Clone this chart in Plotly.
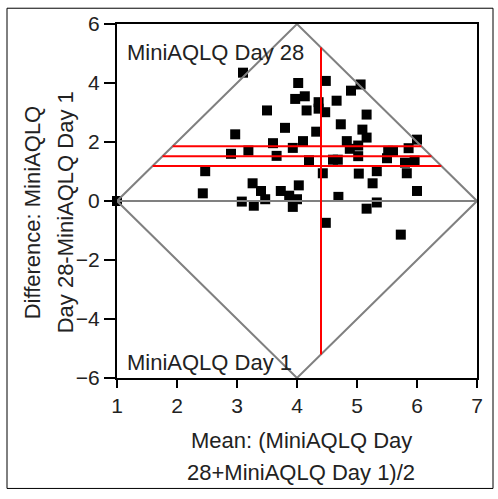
import plotly.graph_objects as go

# Bland-Altman style data: mean of the two scores (x) and difference (y)
mean_vals = [1.00, 2.43, 2.47, 2.90, 2.97, 3.10, 3.08, 3.19, 3.26, 3.28,
             3.40, 3.47, 3.50, 3.60, 3.66, 3.73, 3.80, 3.87, 3.93, 3.93,
             3.97, 4.00, 4.02, 4.03, 4.10, 4.13, 4.16, 4.20, 4.32, 4.36,
             4.36, 4.43, 4.47, 4.48, 4.48, 4.60, 4.66, 4.68, 4.69, 4.73,
             4.83, 4.88, 4.90, 5.02, 5.02, 5.03, 5.06, 5.09, 5.16, 5.16,
             5.16, 5.26, 5.33, 5.33, 5.52, 5.60, 5.50, 5.73, 5.80, 5.83,
             5.86, 5.96, 6.00, 6.00]
diff_vals = [0.00, 0.26, 1.01, 1.60, 2.26, 4.35, -0.02, 1.71, 0.60, -0.16,
             0.34, 0.06, 3.07, 1.96, 1.53, 0.34, 2.48, 0.18, 1.80, -0.20,
             3.46, 0.06, 4.00, 0.53, 2.03, 3.55, 3.07, 1.38, 2.35, 3.35,
             3.13, 0.94, 3.01, 4.07, -0.74, 1.40, 3.40, 1.40, 0.14, 2.60,
             2.03, 1.77, 3.74, 1.88, 1.52, 0.93, 3.95, 2.42, 2.93, 2.15,
             -0.26, 0.60, 1.01, -0.05, 1.70, 1.70, 1.45, -1.14, 1.30, 0.94,
             1.79, 1.37, 2.08, 0.34]

# Reference lines
mean_diff = 1.52
diff_ci_low = 1.19
diff_ci_high = 1.855
mean_of_means = 4.40

# Scale limits (score range 1..7)
score_min, score_max = 1, 7
diamond_x = [1, 4, 7, 4, 1]
diamond_y = [0, 6, 0, -6, 0]
zero_x = [1, 7]
zero_y = [0, 0]

x_ticks = [1, 2, 3, 4, 5, 6, 7]
y_ticks = [-6, -4, -2, 0, 2, 4, 6]

label_top = "MiniAQLQ Day 28"
label_bottom = "MiniAQLQ Day 1"
x_title = ["Mean: (MiniAQLQ Day", "28+MiniAQLQ Day 1)/2"]
y_title = ["Difference: MiniAQLQ", "Day 28-MiniAQLQ Day 1"]

FONT = "Liberation Sans, Arial, sans-serif"
W, H = 498, 499
L, R, T, B = 117, 21, 19, 121
PW, PH = W - L - R, H - T - B


def px_to_paper(px, py):
    return (px - L) / PW, (H - B - py) / PH


fig = go.Figure()

fig.add_trace(go.Scatter(
    x=mean_vals, y=diff_vals, mode="markers",
    marker=dict(symbol="square", size=10, color="black"),
    cliponaxis=False, showlegend=False, hoverinfo="x+y"))

fig.add_trace(go.Scatter(x=diamond_x, y=diamond_y, mode="lines",
                         line=dict(color="#808080", width=2),
                         showlegend=False, hoverinfo="skip"))
fig.add_trace(go.Scatter(x=zero_x, y=zero_y, mode="lines",
                         line=dict(color="#808080", width=2),
                         showlegend=False, hoverinfo="skip"))

# Horizontal red lines span the diamond at their height
for yv in [diff_ci_high, mean_diff, diff_ci_low]:
    half = abs(yv) / 2
    fig.add_trace(go.Scatter(x=[score_min + half, score_max - half], y=[yv, yv],
                             mode="lines", line=dict(color="red", width=2),
                             showlegend=False, hoverinfo="skip"))
# Vertical red line spans the diamond at mean_of_means
hh = 2 * min(mean_of_means - score_min, score_max - mean_of_means)
fig.add_trace(go.Scatter(x=[mean_of_means, mean_of_means], y=[-hh, hh],
                         mode="lines", line=dict(color="red", width=2),
                         showlegend=False, hoverinfo="skip"))

annotations = []
ax, ay = px_to_paper(125, 48)
annotations.append(dict(text=label_top, x=ax, y=ay, xref="paper", yref="paper",
                        xanchor="left", yanchor="middle", showarrow=False,
                        font=dict(family=FONT, size=22, color="#222")))
ax, ay = px_to_paper(125, 362)
annotations.append(dict(text=label_bottom, x=ax, y=ay, xref="paper", yref="paper",
                        xanchor="left", yanchor="middle", showarrow=False,
                        font=dict(family=FONT, size=22, color="#222")))
for i, (cy) in enumerate([441, 474]):
    ax, ay = px_to_paper(301, cy)
    annotations.append(dict(text=x_title[i], x=ax, y=ay, xref="paper", yref="paper",
                            xanchor="center", yanchor="middle", showarrow=False,
                            font=dict(family=FONT, size=22, color="#222")))
for i, cx in enumerate([32, 65]):
    ax, ay = px_to_paper(cx, 210)
    annotations.append(dict(text=y_title[i], x=ax, y=ay, xref="paper", yref="paper",
                            xanchor="center", yanchor="middle", showarrow=False,
                            textangle=-90,
                            font=dict(family=FONT, size=22, color="#222")))

bx0, by0 = px_to_paper(7, 490)
bx1, by1 = px_to_paper(493, 3)

fig.update_layout(
    width=W, height=H,
    margin=dict(l=L, r=R, t=T, b=B, pad=0),
    paper_bgcolor="white", plot_bgcolor="white",
    font=dict(family=FONT, size=21, color="#222"),
    annotations=annotations,
    shapes=[dict(type="rect", xref="paper", yref="paper",
                 x0=bx0, y0=by0, x1=bx1, y1=by1,
                 line=dict(color="black", width=1), layer="below")],
    xaxis=dict(range=[score_min, score_max], tickvals=x_ticks, ticks="outside",
               ticklen=8, tickwidth=2, tickcolor="black", showline=True,
               linecolor="black", linewidth=2, mirror=True, showgrid=False,
               zeroline=False, tickfont=dict(size=21, color="#222")),
    yaxis=dict(range=[-6, 6], tickvals=y_ticks, ticks="outside",
               ticklen=11, tickwidth=2, tickcolor="black", showline=True,
               linecolor="black", linewidth=2, mirror=True, showgrid=False,
               zeroline=False, tickfont=dict(size=21, color="#222")),
)

fig.write_html("out.html")
